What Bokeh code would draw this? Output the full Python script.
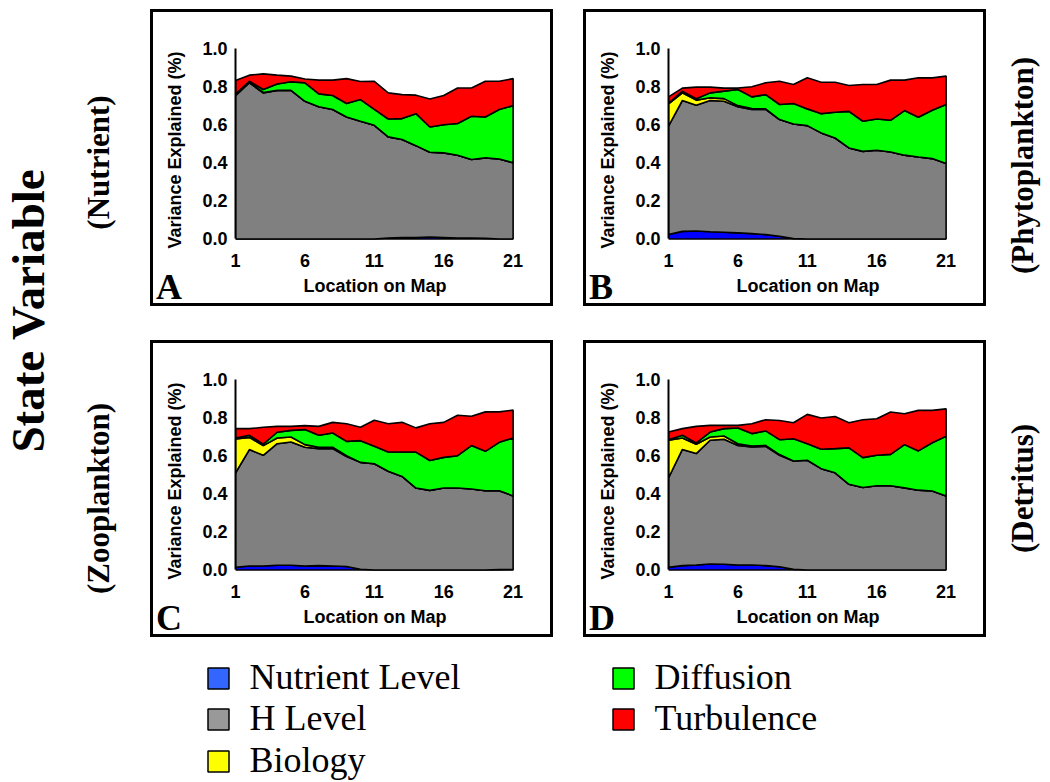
import numpy as np
from bokeh.plotting import figure
from bokeh.models import (Range1d, FixedTicker, NumeralTickFormatter, Label,
                          ColumnDataSource, Spacer, Div)
from bokeh.layouts import row, column
from bokeh.core.properties import value
from bokeh.embed import file_html
from bokeh.resources import INLINE

# ---- data -------------------------------------------------------------
locations = list(range(1, 22))
x_ticks = [1, 6, 11, 16, 21]
y_ticks = [0.0, 0.2, 0.4, 0.6, 0.8, 1.0]

series_names = ["Nutrient Level", "H Level", "Biology", "Diffusion", "Turbulence"]
fill_colors = ["#0000FF", "#808080", "#FFFF00", "#00FF00", "#FF0000"]
legend_colors = ["#3366FF", "#999999", "#FFFF00", "#00FF00", "#FF0000"]

# A: Nutrient
nutrient_A = [0, 0, 0, 0, 0, 0, 0, 0, 0, 0, 0, 0.005, 0.008, 0.008, 0.010, 0.008, 0.005, 0.005, 0.003, 0, 0]
hlevel_A = [0.753, 0.820, 0.767, 0.780, 0.780, 0.723, 0.694, 0.680, 0.640, 0.618, 0.597, 0.531, 0.514, 0.482, 0.445, 0.444, 0.435, 0.412, 0.423, 0.420, 0.400]
biology_A = [0.005, 0.003, 0.002, 0, 0, 0, 0, 0, 0, 0, 0, 0, 0, 0, 0, 0, 0, 0, 0, 0, 0]
diffusion_A = [0.002, 0.005, 0.016, 0.034, 0.045, 0.097, 0.068, 0.073, 0.071, 0.114, 0.083, 0.094, 0.110, 0.168, 0.133, 0.148, 0.166, 0.227, 0.214, 0.260, 0.300]
turbulence_A = [0.072, 0.032, 0.082, 0.046, 0.030, 0.020, 0.072, 0.081, 0.131, 0.095, 0.148, 0.137, 0.126, 0.097, 0.147, 0.153, 0.187, 0.149, 0.188, 0.148, 0.142]

# B: Phytoplankton
nutrient_B = [0.023, 0.040, 0.042, 0.038, 0.035, 0.032, 0.028, 0.023, 0.014, 0.002, 0, 0, 0, 0, 0, 0, 0, 0, 0, 0, 0]
hlevel_B = [0.569, 0.687, 0.660, 0.689, 0.688, 0.662, 0.652, 0.657, 0.613, 0.602, 0.595, 0.557, 0.530, 0.478, 0.460, 0.466, 0.457, 0.440, 0.430, 0.422, 0.396]
biology_B = [0.117, 0.040, 0.027, 0.014, 0.014, 0.006, 0.005, 0.003, 0, 0, 0, 0, 0, 0, 0, 0, 0, 0, 0, 0, 0]
diffusion_B = [0.003, 0.009, 0.007, 0.026, 0.039, 0.085, 0.061, 0.075, 0.079, 0.107, 0.088, 0.101, 0.135, 0.192, 0.158, 0.164, 0.166, 0.234, 0.209, 0.254, 0.310]
turbulence_B = [0.034, 0.016, 0.061, 0.030, 0.016, 0.008, 0.053, 0.062, 0.122, 0.100, 0.163, 0.165, 0.158, 0.136, 0.193, 0.181, 0.211, 0.160, 0.207, 0.170, 0.149]

# C: Zooplankton
nutrient_C = [0.014, 0.021, 0.021, 0.025, 0.025, 0.021, 0.023, 0.021, 0.018, 0.004, 0, 0, 0, 0, 0, 0, 0, 0, 0, 0.002, 0.003]
hlevel_C = [0.495, 0.611, 0.581, 0.638, 0.647, 0.623, 0.614, 0.616, 0.578, 0.561, 0.558, 0.518, 0.491, 0.430, 0.418, 0.430, 0.430, 0.425, 0.416, 0.414, 0.386]
biology_C = [0.179, 0.064, 0.051, 0.030, 0.026, 0.014, 0.007, 0.007, 0.004, 0, 0, 0, 0, 0, 0, 0, 0, 0, 0, 0, 0]
diffusion_C = [0.005, 0.011, 0.008, 0.030, 0.035, 0.079, 0.063, 0.075, 0.075, 0.114, 0.091, 0.101, 0.128, 0.189, 0.157, 0.161, 0.170, 0.228, 0.207, 0.254, 0.304]
turbulence_C = [0.049, 0.035, 0.088, 0.031, 0.021, 0.021, 0.047, 0.056, 0.093, 0.070, 0.137, 0.149, 0.156, 0.127, 0.193, 0.184, 0.212, 0.154, 0.207, 0.160, 0.146]

# D: Detritus
nutrient_D = [0.014, 0.023, 0.026, 0.031, 0.030, 0.026, 0.026, 0.023, 0.017, 0.003, 0, 0, 0, 0, 0, 0, 0, 0, 0, 0, 0]
hlevel_D = [0.469, 0.610, 0.585, 0.650, 0.656, 0.628, 0.620, 0.626, 0.585, 0.569, 0.576, 0.532, 0.510, 0.450, 0.433, 0.442, 0.442, 0.431, 0.419, 0.415, 0.389]
biology_D = [0.198, 0.060, 0.049, 0.017, 0.017, 0.009, 0.005, 0.005, 0.004, 0, 0, 0, 0, 0, 0, 0, 0, 0, 0, 0, 0]
diffusion_D = [0.003, 0.014, 0.007, 0.026, 0.039, 0.082, 0.065, 0.076, 0.078, 0.117, 0.087, 0.102, 0.127, 0.191, 0.157, 0.160, 0.165, 0.227, 0.206, 0.253, 0.313]
turbulence_D = [0.040, 0.035, 0.087, 0.035, 0.017, 0.014, 0.052, 0.059, 0.101, 0.084, 0.154, 0.164, 0.169, 0.132, 0.199, 0.192, 0.222, 0.162, 0.213, 0.170, 0.144]

SANS = "Liberation Sans"
SERIF = "Liberation Serif"
PANEL_W, PANEL_H = 403, 297
STRIP_W = 40          # left part of each boxed panel: y-axis title + panel letter
BORDER = "3px solid black"


def strip_html(letter):
    return (
        '<div style="position:relative;width:37px;height:291px;overflow:visible;">'
        '<div style="position:absolute;left:22px;top:138px;'
        'transform:translate(-50%,-50%) rotate(-90deg);white-space:nowrap;'
        "font-family:'Liberation Sans';font-weight:bold;font-size:18px;"
        'line-height:18px;color:black;">Variance Explained (%)</div>'
        '<div style="position:absolute;left:3px;top:257px;'
        "font-family:'Liberation Serif';font-weight:bold;font-size:36px;"
        f'line-height:36px;color:black;">{letter}</div>'
        '</div>'
    )


def make_panel(letter, components):
    strip = Div(text=strip_html(letter), width=STRIP_W, height=PANEL_H, margin=0,
                styles={"border-left": BORDER, "border-top": BORDER,
                        "border-bottom": BORDER, "overflow": "visible"})

    p = figure(width=PANEL_W - STRIP_W, height=PANEL_H,
               x_range=Range1d(1, 21.1), y_range=Range1d(-0.008, 1.0),
               min_border_left=45, min_border_right=39,
               min_border_top=36, min_border_bottom=69,
               output_backend="svg", toolbar_location=None, tools="",
               styles={"border-right": BORDER, "border-top": BORDER,
                       "border-bottom": BORDER})
    p.outline_line_color = None
    p.grid.visible = False

    # stacked bands, each outlined in black
    base = np.zeros(len(locations))
    for vals, color in zip(components, fill_colors):
        top = base + np.asarray(vals, dtype=float)
        xs = locations + locations[::-1]
        ys = list(top) + list(base[::-1])
        p.patch(xs, ys, fill_color=color, line_color="black", line_width=1.6)
        base = top

    xa = p.xaxis[0]
    xa.ticker = FixedTicker(ticks=x_ticks)
    xa.axis_line_color = None
    xa.major_tick_in = 0
    xa.major_tick_out = 0
    xa.minor_tick_in = 0
    xa.minor_tick_out = 0
    xa.major_label_standoff = 13
    xa.axis_label = "Location on Map"
    xa.axis_label_standoff = 6

    ya = p.yaxis[0]
    ya.ticker = FixedTicker(ticks=y_ticks)
    ya.formatter = NumeralTickFormatter(format="0.0")
    ya.bounds = (0, 1)
    ya.axis_line_width = 2
    ya.axis_line_color = "black"
    ya.major_tick_in = 0
    ya.major_tick_out = 0
    ya.minor_tick_in = 0
    ya.minor_tick_out = 0
    ya.major_label_standoff = 8

    for ax in (xa, ya):
        ax.major_label_text_font = SANS
        ax.major_label_text_font_style = "bold"
        ax.major_label_text_font_size = "18px"
        ax.major_label_text_color = "black"
        ax.axis_label_text_font = SANS
        ax.axis_label_text_font_style = "bold"
        ax.axis_label_text_font_size = "18px"
        ax.axis_label_text_color = "black"
    return row(strip, p)


panel_A = make_panel("A", [nutrient_A, hlevel_A, biology_A, diffusion_A, turbulence_A])
panel_B = make_panel("B", [nutrient_B, hlevel_B, biology_B, diffusion_B, turbulence_B])
panel_C = make_panel("C", [nutrient_C, hlevel_C, biology_C, diffusion_C, turbulence_C])
panel_D = make_panel("D", [nutrient_D, hlevel_D, biology_D, diffusion_D, turbulence_D])


def blank(width, height):
    f = figure(width=width, height=height,
               x_range=Range1d(0, width), y_range=Range1d(height, 0),
               min_border=0, output_backend="svg", toolbar_location=None, tools="")
    f.axis.visible = False
    f.grid.visible = False
    f.outline_line_color = None
    return f


def side_label(f, x, y, text, size):
    f.add_layout(Label(x=x, y=y, text=text, angle=np.pi / 2, text_font=SERIF,
                       text_font_style="bold", text_font_size=size,
                       text_align="center", text_baseline="alphabetic",
                       text_color="black"))


TOP_H = 637
GAP_W = 30
left = blank(150, TOP_H)
side_label(left, 27, 310, "State Variable", "47px")
side_label(left, 98, 162, "(Nutrient)", "31px")
side_label(left, 98, 498, "(Zooplankton)", "31px")

right_w = 1050 - 150 - 2 * PANEL_W - GAP_W
right = blank(right_w, TOP_H)
side_label(right, 36, 165, "(Phytoplankton)", "31px")
side_label(right, 36, 488, "(Detritus)", "31px")

# legend strip: two columns of outlined swatches with labels
LEG_H = 782 - TOP_H
leg = blank(1050, LEG_H)
legend_col_x = [218, 218, 218, 623, 623]
legend_row_y = [41, 82, 124, 41, 82]
leg_src = ColumnDataSource(dict(
    x=legend_col_x, y=legend_row_y,
    tx=[x + 31 for x in legend_col_x], ty=[y - 2 for y in legend_row_y],
    color=legend_colors, name=series_names))
leg.rect(x="x", y="y", width=21, height=21, fill_color="color",
         line_color="black", line_width=1.5, source=leg_src)
leg.text(x="tx", y="ty", text="name", source=leg_src,
         text_font=value(SERIF), text_font_size="36px",
         text_align="left", text_baseline="middle", text_color="black")

layout = column(
    row(left,
        column(Spacer(height=9), panel_A, Spacer(height=34), panel_C),
        Spacer(width=GAP_W),
        column(Spacer(height=9), panel_B, Spacer(height=34), panel_D),
        right),
    leg,
)

open("out.html", "w").write(file_html(layout, INLINE))
